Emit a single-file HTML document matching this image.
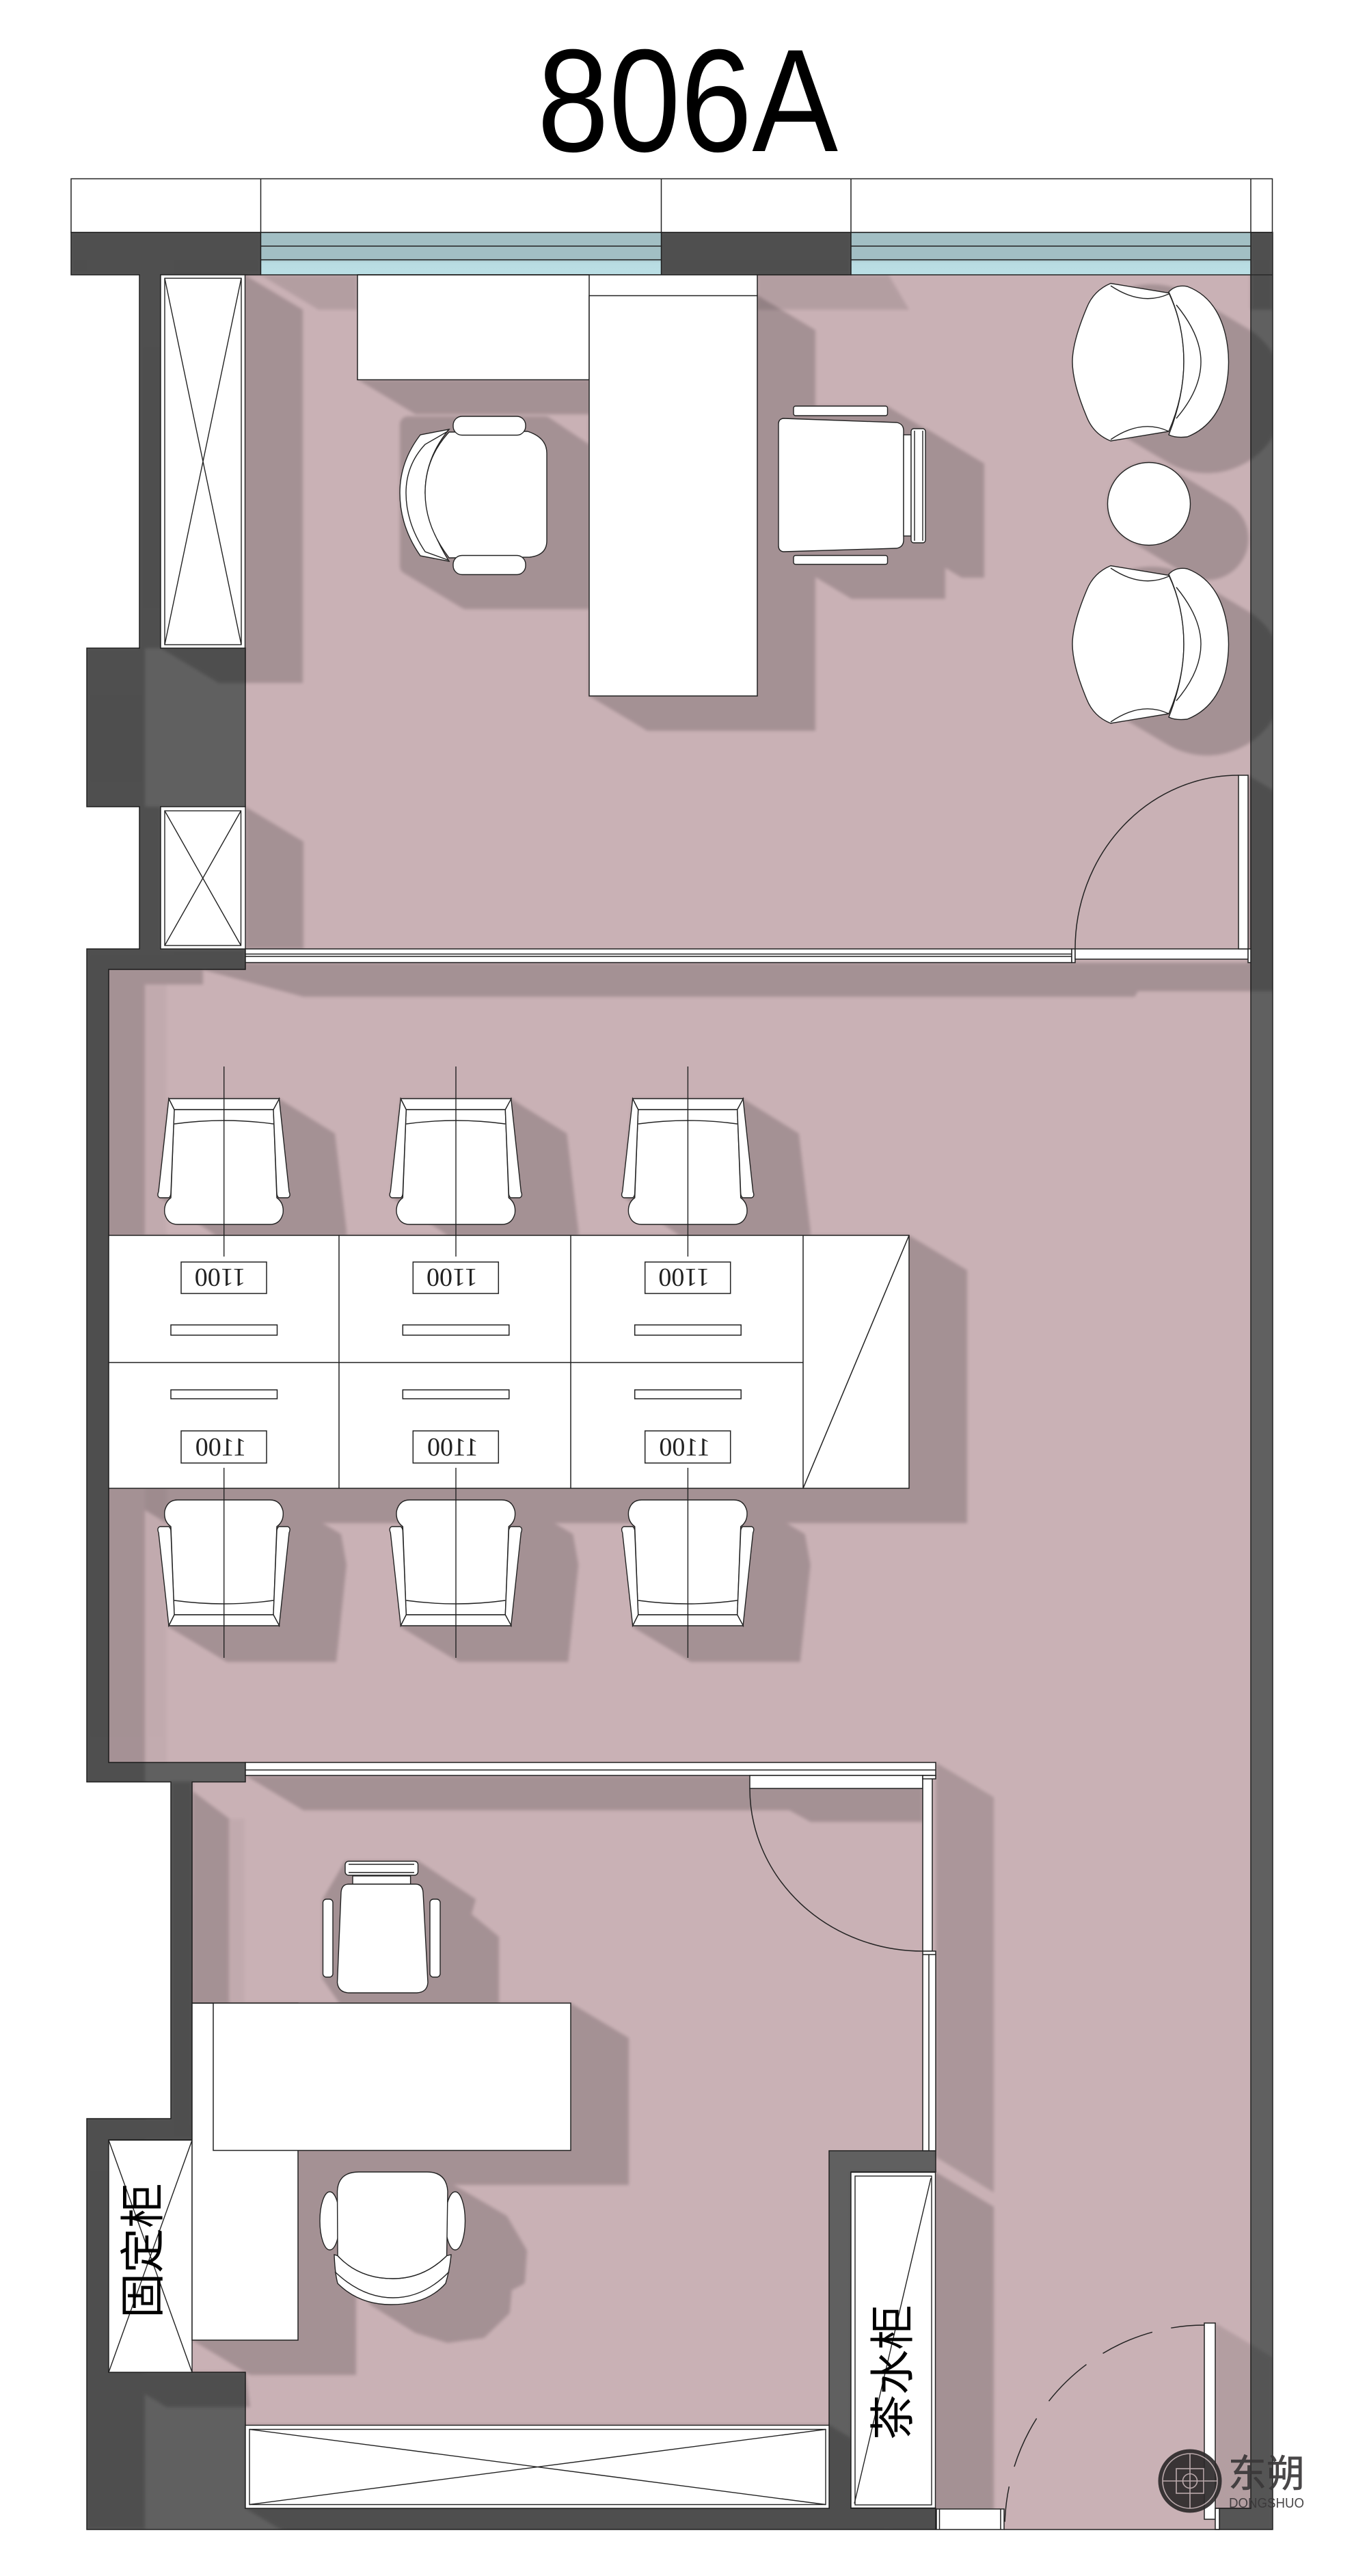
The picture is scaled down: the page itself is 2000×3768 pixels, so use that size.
<!DOCTYPE html>
<html><head><meta charset="utf-8"><style>html,body{margin:0;padding:0;background:#fff}svg{display:block}</style></head><body>
<svg xmlns="http://www.w3.org/2000/svg" width="2000" height="3768" viewBox="0 0 2000 3768">
<defs>
<clipPath id="bld"><polygon points="104,340 1862,340 1862,3700 127,3700 127,3099 250,3099 250,2606 127,2606 127,1388 204,1388 204,1180 127,1180 127,948 204,948 204,402 104,402"/></clipPath>
<filter id="bl" x="-5%" y="-5%" width="110%" height="110%"><feGaussianBlur stdDeviation="2.5"/></filter>
<linearGradient id="gl" x1="0" y1="0" x2="0" y2="1"><stop offset="0" stop-color="#a2bfc4"/><stop offset=".62" stop-color="#a2bfc4"/><stop offset=".72" stop-color="#b8dce2"/><stop offset="1" stop-color="#bbdfe5"/></linearGradient>
<polygon id="s1" points="247,1607 408,1607 490,1658 507,1800 507,1810 320,1810 232,1750"/>
<polygon id="s2" points="247,2193 414,2193 499,2244 507,2289 492,2431 332,2431 247,2380"/>
<g id="c" fill="#fff" stroke="#222" stroke-width="1.4">
<path d="M255 1623 L400 1623 L405 1752 Q416 1760 414 1775 Q410 1791 395 1791 L260 1791 Q245 1791 241 1775 Q239 1760 250 1752 Z"/>
<path d="M247 1607 L232 1743 Q229 1750 234 1752 L247 1752 Q250 1750 250 1745 L255 1623 Z"/>
<path d="M408.4 1607 L423 1743 Q426 1750 421 1752 L408 1752 Q405 1750 405 1745 L400 1623Z"/>
<path d="M247 1607 H408.7 L400 1623 H255Z"/>
<path d="M255 1644 Q328 1634 400 1644" fill="none"/>
<line x1="327.7" y1="1560" x2="327.7" y2="1838"/>
</g>
<g id="arm" fill="#fff" stroke="#222" stroke-width="1.4">
<path d="M1625 414.5 Q1600 425 1590 450 Q1569 500 1569 529 Q1569 560 1590 610 Q1600 635 1625 645 L1710 631 Q1732 580 1732 529 Q1732 475 1710 428.5 Z"/>
<path d="M1710 427 Q1720 416 1737 419 Q1780 435 1793 490 Q1802 529 1793 570 Q1780 622 1737 639 Q1720 641 1710 636 Q1732 580 1732 529 Q1732 475 1710 427Z"/>
<path d="M1721 446 Q1757 490 1757 529 Q1757 570 1721 612" fill="none"/>
<path d="M1625 418 Q1670 448 1710 430" fill="none"/>
<path d="M1625 643 Q1670 612 1710 631" fill="none"/>
</g>
<g id="dr" fill="#fff" stroke="#222" stroke-width="1.5">
<rect x="265" y="1846" width="125" height="46"/>
<rect x="250" y="1938" width="155.5" height="15"/>
<rect x="250" y="2033" width="155.5" height="13"/>
<rect x="265" y="2093" width="125" height="47"/>
</g>
</defs>

<rect width="2000" height="3768" fill="#fff"/>

<text x="786" y="221" font-family="'Liberation Sans',sans-serif" font-size="214" textLength="440" lengthAdjust="spacingAndGlyphs" fill="#000">806A</text>

<!-- exterior strip -->
<rect x="104" y="261.5" width="1757.5" height="78.5" fill="#fff" stroke="#222" stroke-width="1.5"/>
<path d="M381.5 261.5V340M967.5 261.5V340M1245 261.5V340M1830 261.5V340" stroke="#222" stroke-width="1.5"/>

<!-- floor -->
<polygon points="104,340 1862,340 1862,3700 127,3700 127,3099 250,3099 250,2606 127,2606 127,1388 204,1388 204,1180 127,1180 127,948 204,948 204,402 104,402" fill="#c9b1b5"/>

<!-- walls -->
<g fill="#606060" stroke="#222" stroke-width="1.5">
<polygon points="104,340 381.5,340 381.5,402 235,402 235,948 359,948 359,1180 235,1180 235,1388 359,1388 359,1418 159,1418 159,2578 359,2578 359,2606.5 281,2606.5 281,3130 159,3130 159,3470 359,3470 359,3669 1213,3669 1213,3146 1369,3146 1369,3177 1245,3177 1245,3669 1369,3669 1369,3700 127,3700 127,3099 250,3099 250,2606.5 127,2606.5 127,1388 204,1388 204,1180 127,1180 127,948 204,948 204,402 104,402"/>
<rect x="967.5" y="340" width="277.5" height="62"/>
<polygon points="1830,340 1862,340 1862,3700 1784,3700 1784,3669 1830,3669"/>
</g>

<!-- shadows -->
<g clip-path="url(#bld)">
<g filter="url(#bl)" opacity=".175" fill="#000">
<rect x="104" y="340" width="278" height="62"/>
<rect x="967" y="340" width="278" height="62"/>
<rect x="1830" y="340" width="32" height="113"/>
<rect x="204" y="402" width="31" height="546"/>
<rect x="204" y="1180" width="31" height="208"/>
<rect x="127" y="948" width="85" height="440"/>
<rect x="127" y="1388" width="85" height="2312"/>
<rect x="127" y="1388" width="232" height="30"/>
<polygon points="358,402 443,453 443,999 320,999 235,948 235,402"/>
<polygon points="359,1180 444,1231 444,1388 359,1388"/>
<polygon points="523,555 608,606 862,606 862,555"/>
<polygon points="1108,432 1193,483 1193,1069 947,1069 862,1018 862,432"/>
<polygon points="797,621 873,672 873,879 682,879 597,828 597,621" stroke="#000" stroke-width="24" stroke-linejoin="round"/>
<polygon points="1322,627 1355,627 1440,678 1440,845 1407,845 1322,794"/>
<polygon points="1139,612 1161,594 1298,594 1383,645 1383,876 1246,876 1161,825 1139,807"/>
<line x1="1685" y1="530" x2="1766" y2="578" stroke="#000" stroke-width="228" stroke-linecap="round"/>
<line x1="1685" y1="943" x2="1766" y2="991" stroke="#000" stroke-width="228" stroke-linecap="round"/>
<line x1="1681" y1="737" x2="1766" y2="788" stroke="#000" stroke-width="121" stroke-linecap="round"/>
<polygon points="295,1418 444,1458 1660,1458 1665,1450 1911,1450 1911,1408 359,1408"/>
<rect x="212" y="1418" width="85" height="22"/>
<polygon points="1826,1134 1911,1185 1911,1439 1826,1439"/>
<use href="#s1"/><use href="#s1" x="339.3"/><use href="#s1" x="678.7"/>
<use href="#s2"/><use href="#s2" x="339.3"/><use href="#s2" x="678.7"/>
<polygon points="159,1807 1330,1807 1415,1858 1415,2228 244,2228 159,2177"/>
<polygon points="359,2597 444,2648 1350,2648 1350,2597"/>
<polygon points="1097,2597 1097,2616 1186,2665 1350,2665 1350,2597"/>
<polygon points="282,2620 335,2660 335,3135 281,3135"/>
<rect x="250" y="2606" width="31" height="524"/>
<rect x="127" y="3099" width="154" height="31"/>
<polygon points="612,2722 696,2778 690,2800 730,2833 730,2935 500,2935 472,2895 472,2778 505,2722"/>
<polygon points="835,2930 920,2981 920,3196 397,3196 312,3145 312,2930"/>
<polygon points="436,3145 521,3196 521,3474 366,3474 281,3423 281,3145"/>
<polygon points="600,3170 668,3204 738,3245 766,3293 763,3337 744,3347 741,3381 706,3415 655,3422 610,3408 546,3368 490,3300 490,3177" stroke="#000" stroke-width="10" stroke-linejoin="round"/>
<polygon points="159,3470 244,3521 366,3521 359,3470"/>
<polygon points="359,3669 359,3547 1213,3547 1298,3598 1298,3720 444,3720"/>
<polygon points="1245,3177 1369,3177 1454,3228 1454,3720 1330,3720 1245,3669"/>
</g>
<g filter="url(#bl)" opacity=".145" fill="#000">
<polygon points="1369,2578 1454,2629 1454,3207 1369,3155"/>
</g>
<g filter="url(#bl)" opacity=".1" fill="#000">
<polygon points="381,402 523,402 523,453 466,453"/>
<polygon points="1108,402 1300,402 1330,453 1108,453"/>
<polygon points="1778,3398 1863,3449 1863,3720 1778,3720"/>
</g>
<g filter="url(#bl)" opacity=".03" fill="#000">
<rect x="212" y="1440" width="32" height="1138"/>
<rect x="335" y="2660" width="23" height="270"/>
</g>
</g>

<!-- windows -->
<g stroke="#222" stroke-width="1.5">
<rect x="381.5" y="340" width="586" height="62" fill="url(#gl)"/>
<path d="M381.5 360H967.5M381.5 380H967.5" fill="none"/>
<rect x="1245" y="340" width="585" height="62" fill="url(#gl)"/>
<path d="M1245 360H1830M1245 380H1830" fill="none"/>
</g>
<path d="M1830 402H1862M1830 340H1862" stroke="#222" stroke-width="1.2"/>

<!-- cabinets -->
<g fill="#fff" stroke="#222" stroke-width="1.4">
<rect x="235" y="402" width="123.5" height="546"/>
<rect x="241" y="407" width="112" height="536"/>
<path d="M241 407L353 943M353 407L241 943" fill="none"/>
<rect x="235" y="1180" width="124" height="208"/>
<rect x="241" y="1186" width="111.5" height="197"/>
<path d="M241 1186L352.5 1383M352.5 1186L241 1383" fill="none"/>
<rect x="159" y="3130.5" width="122" height="339.5"/>
<path d="M159 3130.5L281 3470M281 3130.5L159 3470" fill="none"/>
<rect x="359" y="3547.5" width="854" height="121.5"/>
<rect x="365" y="3553.5" width="843" height="110"/>
<path d="M365 3553.5L1208 3663.5M1208 3553.5L365 3663.5" fill="none"/>
<rect x="1245" y="3177.5" width="123.5" height="491"/>
<rect x="1251" y="3183" width="112" height="481"/>
<path d="M1362 3186L1250 3662" fill="none"/>
</g>

<!-- top office furniture -->
<rect x="523" y="402" width="585" height="31" fill="#fff"/>
<g fill="#fff" stroke="#222" stroke-width="1.5">
<rect x="523" y="402" width="339" height="153.5"/>
<rect x="862" y="432.5" width="246" height="585.5"/>
<path d="M523 402H1108V432.5" fill="none"/>
</g>
<g fill="#fff" stroke="#222" stroke-width="1.4">
<path d="M657 628 L615 636 Q585 675 585 721 Q585 770 615 813 L657 821 Q625 770 622 721 Q622 670 657 628Z"/>
<path d="M655 631 L622 650 Q594 680 594 721 Q594 765 622 807 L655 819" fill="none"/>
<path d="M657 632 L772 631 Q800 640 800 663 L800 791 Q800 812 775 815 L657 816 Q622 770 622 721 Q622 670 657 632Z"/>
<rect x="663" y="609" width="106" height="27.5" rx="13"/>
<rect x="663" y="812.5" width="106" height="28" rx="13"/>
<path d="M1146 612 L1312 618 Q1322 620 1322 630 L1322 790 Q1322 800 1312 802 L1146 807 Q1139 806 1139 798 L1139 620 Q1139 613 1146 612Z"/>
<rect x="1161" y="594" width="137.5" height="14" rx="3"/>
<rect x="1161" y="812.5" width="137.5" height="13" rx="3"/>
<rect x="1322" y="636" width="11" height="148"/>
<rect x="1333" y="627" width="21" height="167" rx="4"/>
<path d="M1338 630V791M1350 630V791" fill="none"/>
<circle cx="1681" cy="737" r="60.5"/>
</g>
<use href="#arm"/>
<use href="#arm" y="413"/>

<!-- door 1 -->
<g fill="#fff" stroke="#222" stroke-width="1.5">
<rect x="359" y="1388" width="1209" height="20"/>
<path d="M359 1395.5H1568M359 1399H1568" fill="none"/>
<rect x="1568" y="1388" width="5" height="20"/>
<rect x="1573" y="1388" width="253" height="15"/>
<rect x="1812" y="1134" width="14" height="254"/>
<rect x="1826" y="1388" width="4" height="20"/>
<path d="M1573 1388 A 239 254 0 0 1 1812 1134" fill="none"/>
</g>

<!-- work table -->
<g fill="#fff" stroke="#222" stroke-width="1.5">
<rect x="159" y="1807" width="1171" height="370"/>
<path d="M496 1807V2177M835 1807V2177M1175 1807V2177M159 1993H1175M1330 1807L1175 2177" fill="none"/>
</g>
<use href="#dr"/><use href="#dr" x="339.3"/><use href="#dr" x="678.7"/>
<use href="#c"/><use href="#c" x="339.3"/><use href="#c" x="678.7"/>
<use href="#c" transform="translate(0 3985) scale(1 -1)"/>
<use href="#c" transform="translate(339.3 3985) scale(1 -1)"/>
<use href="#c" transform="translate(678.7 3985) scale(1 -1)"/>
<g font-family="'Liberation Serif',serif" font-size="38" fill="#222" text-anchor="middle">
<text transform="rotate(180 322 1869)" x="322" y="1882">1100</text>
<text transform="rotate(180 661.3 1869)" x="661.3" y="1882">1100</text>
<text transform="rotate(180 1000.7 1869)" x="1000.7" y="1882">1100</text>
<text transform="translate(646 0) scale(-1 1)" x="323" y="2129">1100</text>
<text transform="translate(1324.6 0) scale(-1 1)" x="662.3" y="2129">1100</text>
<text transform="translate(2003.4 0) scale(-1 1)" x="1001.7" y="2129">1100</text>
</g>

<!-- partition 2 and door 2 -->
<g fill="#fff" stroke="#222" stroke-width="1.5">
<rect x="359" y="2578" width="1010" height="19"/>
<path d="M359 2589H1369" fill="none"/>
<rect x="1097" y="2597" width="253" height="19"/>
<rect x="1350" y="2597" width="14" height="257"/>
<rect x="1350" y="2597" width="19" height="5"/>
<rect x="1350" y="2854" width="19" height="292"/>
<path d="M1350 2859H1369M1359 2859V3146" fill="none"/>
<path d="M1097 2616 A 253 238 0 0 0 1350 2854" fill="none"/>
</g>

<!-- bottom office furniture -->
<g fill="#fff" stroke="#222" stroke-width="1.5">
<rect x="281" y="2930" width="155" height="493"/>
<rect x="312" y="2930" width="523" height="215.5"/>
<path d="M281 2930H312" fill="none"/>
</g>
<g fill="#fff" stroke="#222" stroke-width="1.4">
<rect x="505" y="2722.5" width="106.5" height="20.5" rx="5"/>
<path d="M510 2727H606M510 2739H606" fill="none"/>
<rect x="516" y="2744" width="84.6" height="12"/>
<path d="M510 2756H608 Q618 2756 619 2768 L626 2900 Q625 2914 610 2915 L510 2915 Q495 2914 493.5 2900 L499 2768 Q500 2756 510 2756Z"/>
<rect x="472.5" y="2778" width="14.5" height="114" rx="5"/>
<rect x="629" y="2778" width="15" height="114" rx="5"/>
<ellipse cx="482.5" cy="3248.5" rx="14.5" ry="42.5"/>
<ellipse cx="666" cy="3248.5" rx="14.5" ry="42.5"/>
<path d="M489 3298 Q490 3325 494 3340 Q525 3371 572 3371 Q625 3371 652 3340 Q658 3320 660 3298 L653.6 3299.5 Q620 3333 575 3333 Q525 3333 494 3299.5Z"/>
<path d="M490 3323 Q530 3361 575 3361 Q620 3361 657 3323" fill="none"/>
<path d="M494 3299.5 L493.5 3205 Q495 3177 525 3177 L625 3177 Q653 3177 655 3205 L653.6 3299.5 Q620 3333 575 3333 Q525 3333 494 3299.5Z"/>
</g>

<!-- entrance -->
<g fill="#fff" stroke="#222" stroke-width="1.5">
<rect x="1370" y="3670" width="99" height="30"/>
<path d="M1374.5 3670V3700M1464 3670V3700" fill="none"/>
<rect x="1762" y="3398" width="16" height="287"/>
<rect x="1778" y="3669" width="6" height="31"/>
<path d="M1778 3669H1830" fill="none"/>
<path d="M1469 3700H1784" fill="none"/>
<path d="M1762 3401 A 292 298 0 0 0 1470 3699" fill="none" stroke-dasharray="49 28 79 29 77 31 78 30 52"/>
</g>

<!-- labels -->
<g font-family="'Liberation Sans','Noto Sans CJK SC',sans-serif" font-size="66" fill="#000" text-anchor="middle">
<text transform="rotate(-90 232 3292)" x="232" y="3292">固定柜</text>
<text transform="rotate(-90 1329 3470)" x="1329" y="3470">茶水柜</text>
</g>

<!-- logo -->
<g opacity=".92">
<circle cx="1741" cy="3629" r="46.5" fill="#2d2a2b"/>
<g fill="none" stroke="#b9a9ab" stroke-width="1.6">
<circle cx="1741" cy="3629" r="40"/>
<circle cx="1741" cy="3629" r="10.5"/>
<rect x="1721" y="3611" width="40" height="36"/>
<path d="M1701 3629H1781M1741 3589V3669"/>
</g>
<text x="1797" y="3638" font-family="'Liberation Sans','Noto Sans CJK SC',sans-serif" font-size="56" fill="#3a3839" stroke="#3a3839" stroke-width=".6" textLength="112" lengthAdjust="spacingAndGlyphs">东朔</text>
<text x="1798" y="3668" font-family="'Liberation Sans',sans-serif" font-size="20" fill="#3a3839" textLength="110" lengthAdjust="spacingAndGlyphs">DONGSHUO</text>
</g>
</svg>
</body></html>
